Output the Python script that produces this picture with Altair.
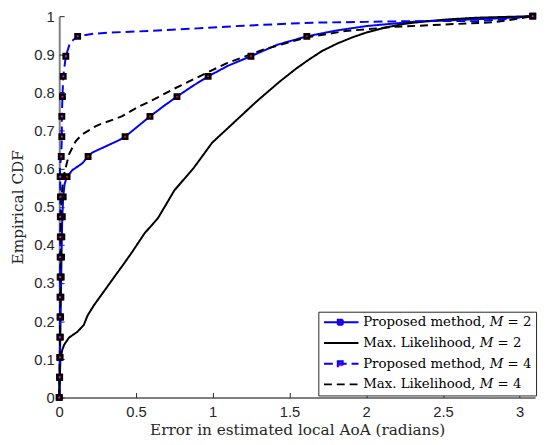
import altair as alt
import pandas as pd

SERIES = ["Proposed method, 𝑀 = 2", "Max. Likelihood, 𝑀 = 2",
          "Proposed method, 𝑀 = 4", "Max. Likelihood, 𝑀 = 4"]

prop2_x = [0, 0.002, 0.005, 0.007, 0.009, 0.011, 0.013, 0.015, 0.017, 0.02,
           0.026, 0.035, 0.051, 0.085, 0.15, 0.188, 0.214, 0.3, 0.386, 0.429,
           0.5, 0.591, 0.68, 0.767, 0.87, 0.97, 1.1, 1.249, 1.42, 1.613,
           1.8, 2.0, 2.3, 2.6, 2.9, 3.085]
prop2_y = [0, 0.053, 0.105, 0.158, 0.211, 0.263, 0.316, 0.368, 0.421, 0.474,
           0.526, 0.56, 0.579, 0.596, 0.614, 0.632, 0.642, 0.658, 0.674, 0.684,
           0.707, 0.737, 0.764, 0.789, 0.817, 0.842, 0.87, 0.895, 0.925, 0.947,
           0.962, 0.974, 0.985, 0.99, 0.995, 1.0]

ml2_x = [0, 0.003, 0.008, 0.02, 0.032, 0.064, 0.118, 0.16, 0.185, 0.225,
         0.257, 0.3, 0.364, 0.42, 0.471, 0.557, 0.643, 0.75, 0.878, 0.996,
         1.135, 1.285, 1.435, 1.542, 1.63, 1.714, 1.81, 1.907, 2.0, 2.121,
         2.25, 2.4, 2.55, 2.72, 2.9, 3.085]
ml2_y = [0, 0.05, 0.1, 0.125, 0.138, 0.157, 0.172, 0.19, 0.215, 0.241,
         0.259, 0.283, 0.319, 0.35, 0.379, 0.431, 0.47, 0.543, 0.603, 0.668,
         0.72, 0.776, 0.828, 0.862, 0.887, 0.909, 0.928, 0.944, 0.957, 0.97,
         0.98, 0.987, 0.992, 0.996, 0.998, 1.0]

prop4_x = [0, 0.003, 0.004, 0.004, 0.005, 0.005, 0.006, 0.006, 0.007, 0.007,
           0.008, 0.006, 0.004, 0.013, 0.017, 0.017, 0.021, 0.026, 0.043, 0.07,
           0.12, 0.225, 0.33, 0.578, 0.9, 1.2, 1.65, 2.0, 2.29, 2.72,
           2.935, 3.085]
prop4_y = [0, 0.053, 0.105, 0.158, 0.211, 0.263, 0.316, 0.368, 0.421, 0.474,
           0.526, 0.579, 0.605, 0.632, 0.684, 0.737, 0.789, 0.842, 0.895, 0.93,
           0.947, 0.954, 0.957, 0.961, 0.968, 0.975, 0.983, 0.985, 0.987, 0.987,
           0.993, 1.0]

ml4_x = [0, 0.004, 0.006, 0.008, 0.01, 0.013, 0.02, 0.032, 0.064, 0.107,
         0.15, 0.236, 0.257, 0.407, 0.514, 0.6, 0.75, 0.964, 1.093, 1.328,
         1.607, 1.864, 2.185, 2.506, 2.828, 2.935, 3.085]
ml4_y = [0, 0.1, 0.2, 0.3, 0.4, 0.5, 0.55, 0.586, 0.638, 0.672,
         0.69, 0.711, 0.715, 0.737, 0.762, 0.778, 0.81, 0.852, 0.877, 0.912,
         0.944, 0.961, 0.972, 0.978, 0.984, 0.99, 1.0]

marker_y = [0, 0.053, 0.105, 0.158, 0.211, 0.263, 0.316, 0.368, 0.421, 0.474,
            0.526, 0.579, 0.632, 0.684, 0.737, 0.789, 0.842, 0.895, 0.947, 1.0]
prop2_mx = [0, 0.002, 0.005, 0.007, 0.009, 0.011, 0.013, 0.015, 0.017, 0.02,
            0.026, 0.051, 0.188, 0.429, 0.591, 0.767, 0.97, 1.249, 1.613, 3.085]
prop4_mx = [0, 0.003, 0.004, 0.004, 0.005, 0.005, 0.006, 0.006, 0.007, 0.007,
            0.008, 0.006, 0.013, 0.017, 0.017, 0.021, 0.026, 0.043, 0.12, 3.085]

x_ticks = [0, 0.5, 1, 1.5, 2, 2.5, 3]
y_ticks = [0, 0.1, 0.2, 0.3, 0.4, 0.5, 0.6, 0.7, 0.8, 0.9, 1]

# ---- tables ----
rows = []
for name, xs_, ys_ in [(SERIES[0], prop2_x, prop2_y), (SERIES[1], ml2_x, ml2_y),
                       (SERIES[2], prop4_x, prop4_y), (SERIES[3], ml4_x, ml4_y)]:
    for i, (a, b) in enumerate(zip(xs_, ys_)):
        rows.append({"x": a, "y": b, "series": name, "idx": i})
df_lines = pd.DataFrame(rows)

mrows = []
for sid, (mx, face) in enumerate([(prop2_mx, "#ff0000"), (prop4_mx, "#ff00ff")]):
    for a, b in zip(mx, marker_y):
        mrows.append({"x": a, "y": b, "face": face, "sid": sid})
df_mk = pd.DataFrame(mrows)

W, H = 483, 387
xs = alt.Scale(domain=[0, 3.1], nice=False, zero=False)
ys = alt.Scale(domain=[0, 1], nice=False, zero=False)

TICK_FONT = "Liberation Sans"
SERIF = "DejaVu Serif"

x_axis = alt.Axis(values=x_ticks, format="~g", grid=False, ticks=False,
                  domainColor="#808080", domainWidth=2,
                  labelFont=TICK_FONT, labelFontSize=15, labelColor="#262626",
                  labelPadding=7, labelFlush=False,
                  title="Error in estimated local AoA (radians)",
                  titleFont=SERIF, titleFontSize=15.5, titleFontWeight="normal",
                  titleColor="#262626", titleX=W / 2, titleY=33,
                  titleBaseline="middle", titleAlign="center")
y_axis = alt.Axis(values=y_ticks, format="~g", grid=False, ticks=False,
                  domainColor="#808080", domainWidth=2,
                  labelFont=TICK_FONT, labelFontSize=15, labelColor="#262626",
                  labelPadding=5, labelFlush=False,
                  title="Empirical CDF",
                  titleFont=SERIF, titleFontSize=15.5, titleFontWeight="normal",
                  titleColor="#262626", titleX=-42, titleY=H / 2,
                  titleAngle=270, titleBaseline="middle", titleAlign="center")

SHAPE = ("indexof(datum.value, 'Proposed') == 0 ? "
         "'M-1,0H6M1.8,-0.5H2.8V0.5H1.8Z' : 'M-1,0H6'")
FILL = ("indexof(datum.value, 'Proposed') == 0 ? "
        "(indexof(datum.value, '2') > 0 ? '#ff0000' : '#ff00ff') : 'transparent'")

legend = alt.Legend(title=None, orient="none", legendX=263, legendY=300,
                    padding=4, rowPadding=6, symbolSize=100, symbolStrokeWidth=2,
                    symbolType=alt.ExprRef(expr=SHAPE),
                    symbolFillColor=alt.ExprRef(expr=FILL),
                    labelFont=SERIF, labelFontSize=13.5, labelColor="black",
                    labelOffset=28, labelLimit=400,
                    strokeColor="#262626", fillColor="white")

lines = alt.Chart(df_lines).mark_line(strokeWidth=2, strokeJoin="round").encode(
    x=alt.X("x:Q", scale=xs, axis=x_axis),
    y=alt.Y("y:Q", scale=ys, axis=y_axis),
    color=alt.Color("series:N", scale=alt.Scale(domain=SERIES,
                    range=["#0000ff", "#000000", "#0000ff", "#000000"]), legend=legend),
    strokeDash=alt.StrokeDash("series:N", scale=alt.Scale(domain=SERIES,
                    range=[[1, 0], [1, 0], [9, 5], [8, 5]]), legend=legend),
    order="idx:Q",
)

markers = alt.Chart(df_mk).mark_point(shape="square", filled=True, size=20,
                                      stroke="black", strokeWidth=2.5, opacity=1).encode(
    x=alt.X("x:Q", scale=xs, axis=None),
    y=alt.Y("y:Q", scale=ys, axis=None),
    fill=alt.Fill("face:N", scale=None),
)

ticks = alt.Chart(df_mk).mark_point(opacity=0).encode(
    x=alt.X("x:Q", scale=xs, axis=alt.Axis(orient="top", offset=-H, values=x_ticks,
            domain=False, labels=False, grid=False, ticks=True, tickSize=5,
            tickColor="#262626", tickWidth=1, title=None)),
    y=alt.Y("y:Q", scale=ys, axis=alt.Axis(orient="right", offset=-W, values=y_ticks,
            domain=False, labels=False, grid=False, ticks=True, tickSize=5,
            tickColor="#262626", tickWidth=1, title=None)),
)

chart = alt.layer(lines, markers, ticks).resolve_axis(
    x="independent", y="independent"
).properties(
    width=W, height=H,
    autosize=alt.AutoSizeParams(type="none"),
    padding={"left": 52, "top": 5, "right": 5, "bottom": 45},
    background="white",
).configure_view(stroke=None)

chart.save("out.html", embed_options={"renderer": "svg", "actions": False})
